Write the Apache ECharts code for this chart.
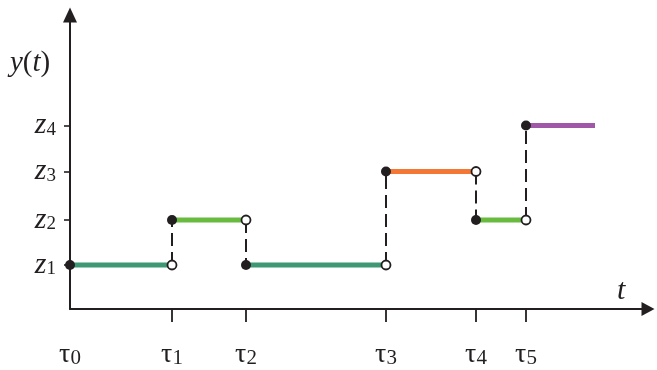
<!DOCTYPE html>
<html>
<head>
<meta charset="utf-8">
<script src="https://cdn.jsdelivr.net/npm/echarts@6/dist/echarts.min.js"></script>
<style>html,body{margin:0;padding:0;background:#fff;}#c{width:657px;height:370px;}</style>
</head>
<body>
<div id="c"></div>
<script>
// ---- data ----
const tauVals = [0, 5.1, 8.8, 15.8, 20.3, 22.8];
const tauSubs = ['0', '1', '2', '3', '4', '5'];
const zVals = [4.4, 8.9, 13.75, 18.35];
const zSubs = ['1', '2', '3', '4'];
const segLevel = [0, 1, 0, 2, 1, 3];      // index into zVals for each interval
const tEnd = 26.25;                        // end of last interval
const segColors = ['#3d9873', '#69bb40', '#3d9873', '#f47735', '#69bb40', '#a057a8'];
const xMax = 28.9;
const yMax = 29.4;

const SERIF = 'Liberation Serif, Times New Roman, serif';
const AX = '#231f20';

const series = [];
// horizontal segments
for (let i = 0; i < tauVals.length; i++) {
  const x0 = tauVals[i];
  const x1 = i + 1 < tauVals.length ? tauVals[i + 1] : tEnd;
  const y = zVals[segLevel[i]];
  series.push({
    type: 'line', data: [[x0, y], [x1, y]], showSymbol: false, silent: true,
    lineStyle: { color: segColors[i], width: 5, cap: 'butt' }, z: 2
  });
}
// dashed jumps
for (let i = 1; i < tauVals.length; i++) {
  const x = tauVals[i];
  series.push({
    type: 'line', data: [[x, zVals[segLevel[i - 1]]], [x, zVals[segLevel[i]]]], showSymbol: false, silent: true,
    lineStyle: { color: AX, width: 2, type: [13, 6] }, z: 3
  });
}
// filled dots (start of each interval)
series.push({
  type: 'scatter', symbol: 'circle', symbolSize: 10, silent: true, z: 5,
  itemStyle: { color: AX, opacity: 1 },
  data: tauVals.map((x, i) => [x, zVals[segLevel[i]]])
});
// open circles (end of each interval except last)
series.push({
  type: 'scatter', symbol: 'circle', symbolSize: 9, silent: true, z: 5,
  itemStyle: { color: '#fff', borderColor: AX, borderWidth: 1.8, opacity: 1 },
  data: tauVals.slice(1).map((x, i) => [x, zVals[segLevel[i]]])
});

const chart = echarts.init(document.getElementById('c'), null, { renderer: 'canvas' });
chart.setOption({
  animation: false,
  backgroundColor: '#fff',
  grid: { left: 70, right: 9, top: 15, bottom: 61, containLabel: false },
  xAxis: {
    type: 'value', min: 0, max: xMax,
    splitLine: { show: false },
    axisLine: { show: true, onZero: false, symbol: ['none', 'triangle'], symbolSize: [14, 13], lineStyle: { color: AX, width: 2 } },
    axisTick: { show: true, customValues: tauVals.slice(1), length: 13, inside: false, lineStyle: { color: AX, width: 1.8 } },
    axisLabel: {
      show: true, customValues: tauVals, margin: 32,
      formatter: (v) => { const i = tauVals.indexOf(v); return i < 0 ? '' : '{g|τ}{s|' + tauSubs[i] + '}'; },
      rich: {
        g: { fontFamily: SERIF, fontSize: 28, color: AX, lineHeight: 28 },
        s: { fontFamily: SERIF, fontSize: 21, color: AX, lineHeight: 16, verticalAlign: 'bottom' }
      }
    }
  },
  yAxis: {
    type: 'value', min: 0, max: yMax,
    splitLine: { show: false },
    axisLine: { show: true, onZero: false, symbol: ['none', 'triangle'], symbolSize: [14, 15], lineStyle: { color: AX, width: 2 } },
    axisTick: { show: true, customValues: zVals, length: 6, inside: false, lineStyle: { color: AX, width: 1.6 } },
    axisLabel: {
      show: true, customValues: zVals, margin: 14,
      formatter: (v) => { const i = zVals.indexOf(v); return i < 0 ? '' : '{i|z}{s|' + zSubs[i] + '}'; },
      rich: {
        i: { fontFamily: SERIF, fontStyle: 'italic', fontSize: 30, color: AX, lineHeight: 28 },
        s: { fontFamily: SERIF, fontSize: 19, color: AX, lineHeight: 18, verticalAlign: 'bottom' }
      }
    }
  },
  graphic: [
    { type: 'text', left: 10, top: 49, style: { text: '{i|y}{p|(}{i|t}{p|)}', rich: {
        i: { font: 'italic 29px ' + SERIF, fill: AX },
        p: { font: '29px ' + SERIF, fill: AX }
      } }, silent: true },
    { type: 'text', left: 617, top: 276, style: { text: 't', font: 'italic 30px ' + SERIF, fill: AX }, silent: true }
  ],
  series: series
});
</script>
</body>
</html>
